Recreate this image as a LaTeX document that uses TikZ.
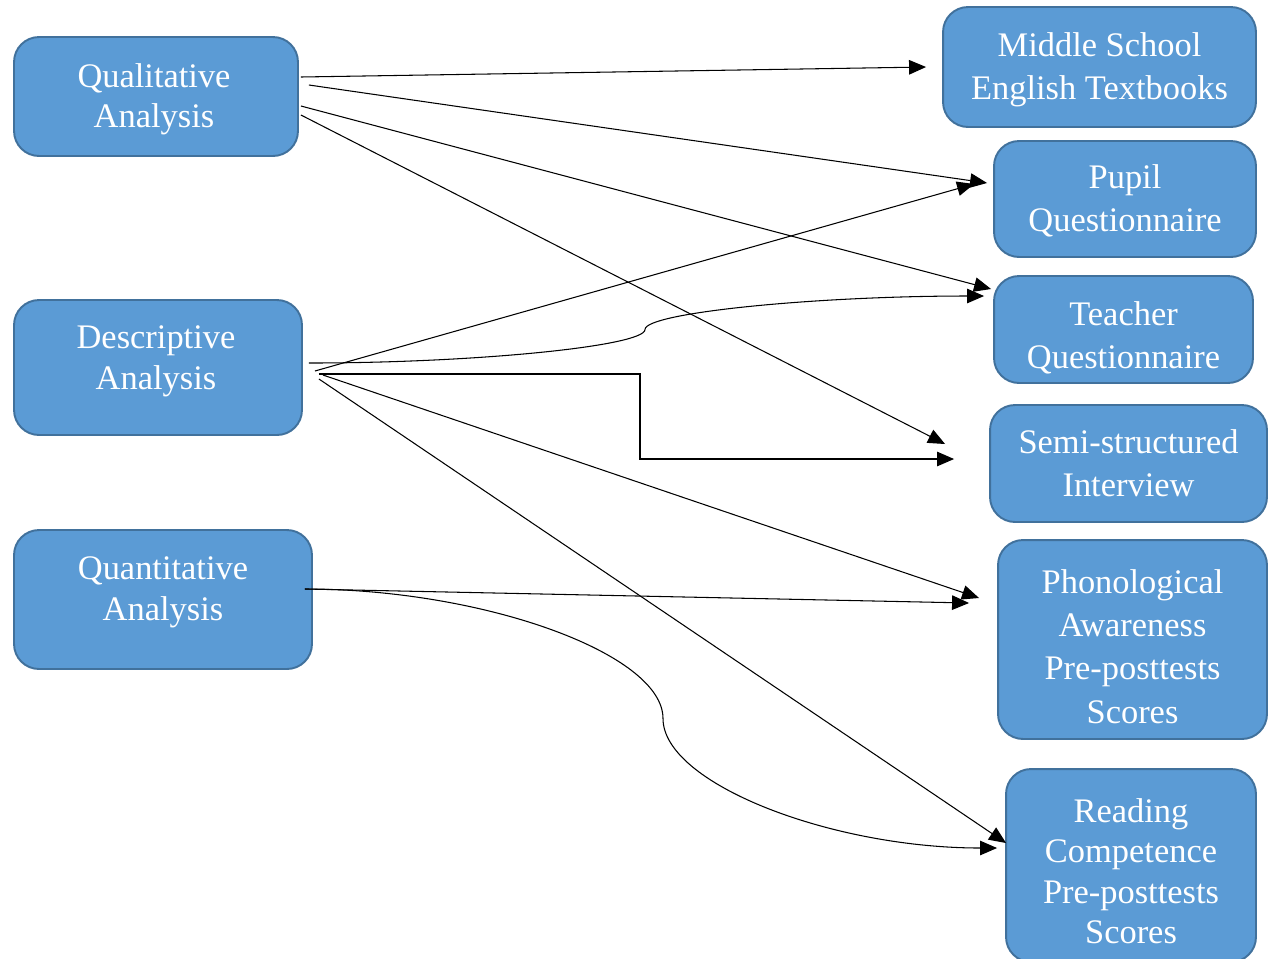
\documentclass[tikz,border=0pt]{standalone}
\usepackage{fontspec}
\setmainfont{Liberation Serif}
\usetikzlibrary{arrows.meta,calc}
\definecolor{boxfill}{HTML}{5B9BD5}
\definecolor{boxline}{HTML}{41719C}
\begin{document}
\begin{tikzpicture}[x=0.02cm,y=-0.02cm,
  box/.style={draw=boxline,fill=boxfill,line width=1.1pt,rounded corners=0.5cm,inner sep=0pt},
  wide/.style={align=center,text=white,inner sep=0pt,font=\fontsize{19.6}{24.6}\selectfont},
  tight/.style={align=center,text=white,inner sep=0pt,font=\fontsize{19.6}{23}\selectfont},
  link/.style={draw=black,line width=0.6pt,-{Triangle[length=0.34cm,width=0.29cm]}}]
\useasboundingbox (0,0) rectangle (1274,958);

% analysis boxes (left)
\node[box,minimum width=5.68cm,minimum height=2.38cm,
  label={[tight,yshift=-0.05cm,xshift=-0.04cm]center:Qualitative\\Analysis}] (qual) at (156,96.5) {};
\node[box,minimum width=5.76cm,minimum height=2.70cm,
  label={[tight,yshift=0.12cm,xshift=-0.04cm]center:Descriptive\\Analysis}] (desc) at (158,367.5) {};
\node[box,minimum width=5.96cm,minimum height=2.78cm,
  label={[tight,yshift=0.14cm]center:Quantitative\\Analysis}] (quan) at (163,599.5) {};

% data sources (right)
\node[box,minimum width=6.26cm,minimum height=2.40cm,
  label={[wide,yshift=-0.06cm]center:Middle School\\English Textbooks}] (mss) at (1099.5,67) {};
\node[box,minimum width=5.24cm,minimum height=2.32cm,
  label={[wide,yshift=-0.04cm]center:Pupil\\Questionnaire}] (pupil) at (1125,199) {};
\node[box,minimum width=5.18cm,minimum height=2.14cm,
  label={[wide,yshift=-0.16cm]center:Teacher\\Questionnaire}] (teacher) at (1123.5,329.5) {};
\node[box,minimum width=5.54cm,minimum height=2.34cm,
  label={[wide,yshift=0.01cm]center:Semi-structured\\Interview}] (semi) at (1128.5,463.5) {};
\node[box,minimum width=5.38cm,minimum height=3.98cm,
  label={[wide,yshift=-0.14cm]center:Phonological\\Awareness\\Pre-posttests\\Scores}] (phono) at (1132.5,639.5) {};
\node[box,minimum width=5.00cm,minimum height=3.86cm,
  label={[tight,yshift=-0.11cm]center:Reading\\Competence\\Pre-posttests\\Scores}] (reading) at (1131,865.5) {};

% connector end points
\coordinate (q1s) at ($(qual.east)+(2,-19.5)$);
\coordinate (q2s) at ($(qual.east)+(10,-11.5)$);
\coordinate (q3s) at ($(qual.east)+(2,9.5)$);
\coordinate (q4s) at ($(qual.east)+(2,18.5)$);
\coordinate (d1s) at ($(desc.east)+(12,3.5)$);
\coordinate (d2s) at ($(desc.east)+(6,-4.5)$);
\coordinate (d3s) at ($(desc.east)+(16,6.5)$);
\coordinate (d4s) at ($(desc.east)+(20,7.5)$);
\coordinate (d5s) at ($(desc.east)+(16,11.5)$);
\coordinate (n1s) at ($(quan.east)+(-8,-10.5)$);
\coordinate (mst) at ($(mss.west)+(-16,0)$);
\coordinate (pt1) at ($(pupil.west)+(-6,-16)$);
\coordinate (pt2) at ($(pupil.west)+(-19,-15)$);
\coordinate (tt1) at ($(teacher.west)+(-2,-40.5)$);
\coordinate (tt2) at ($(teacher.west)+(-9,-33.5)$);
\coordinate (st1) at ($(semi.west)+(-44,-19.5)$);
\coordinate (st2) at ($(semi.west)+(-35,-4.5)$);
\coordinate (ph1) at ($(phono.west)+(-18,-41.5)$);
\coordinate (ph2) at ($(phono.west)+(-28,-36.5)$);
\coordinate (rd1) at ($(reading.west)+(1,-22.5)$);
\coordinate (rd2) at ($(reading.west)+(-8,-17.5)$);

% qualitative analysis
\draw[link] (q1s) -- (mst);
\draw[link] (q2s) -- (pt1);
\draw[link] (q3s) -- (tt1);
\draw[link] (q4s) -- (st1);

% descriptive analysis
\draw[link] (d1s) -- (pt2);
\draw[link] (d2s) .. controls (476.5,363) and (645,346) .. (645,329.5)
                  .. controls (645,312.75) and (815,296) .. (tt2);
\draw[link] (d3s) -| (640,459) -- (st2);
\draw[link] (d4s) -- (ph1);
\draw[link] (d5s) -- (rd1);

% quantitative analysis
\draw[link] (n1s) -- (ph2);
\draw[link] (n1s) .. controls (483.5,589) and (663,653.75) .. (663,718.5)
                  .. controls (663,783.25) and (830.5,848) .. (rd2);
\end{tikzpicture}
\end{document}
